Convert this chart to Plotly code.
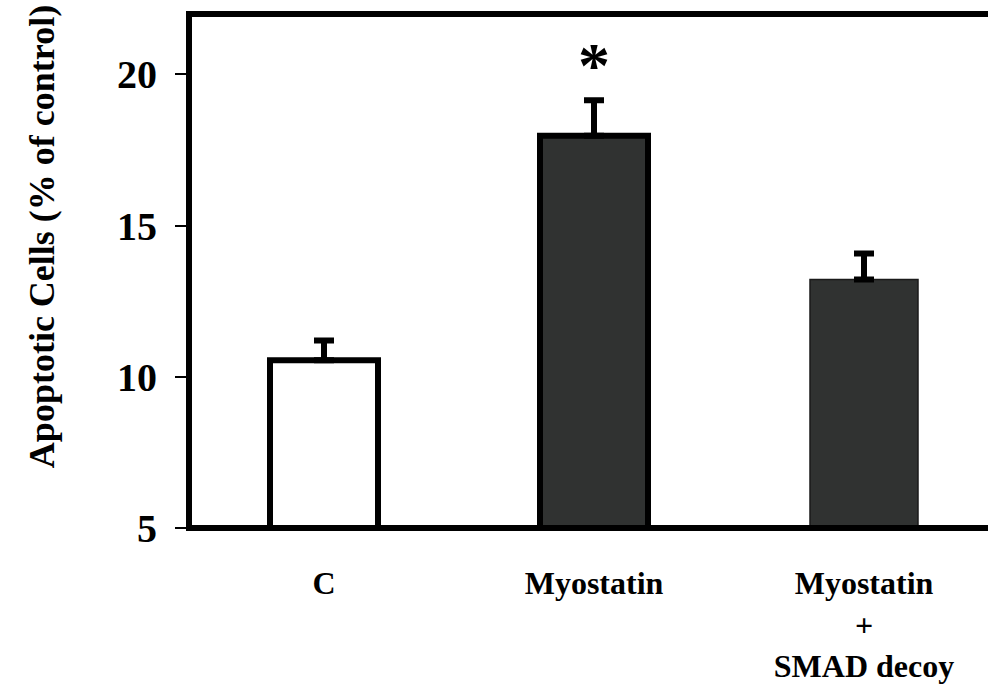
import plotly.graph_objects as go

# Apoptosis data (% of control), mean and upper error
categories = ["C", "Myostatin", "Myostatin<br>+<br>SMAD decoy"]
values = [10.55, 17.97, 13.22]
errors_up = [0.65, 1.18, 0.86]
fill_colors = ["#ffffff", "#303231", "#303231"]
outline_widths = [6, 6, 1.5]
outline_colors = ["#000000", "#000000", "#1a1a1a"]
y_ticks = [5, 10, 15, 20]
y_range = [5, 22]
significance_mark = "*"

W, H = 988, 684
L, T, B, R = 189, 14, 154, 0
plot_w = W - L - R
plot_h = H - T - B
cat_px = 270.0  # pixel width of one category slot
x_range = [-0.5, -0.5 + plot_w / cat_px]

FONT = "Liberation Serif, Times New Roman, serif"
positions = list(range(len(categories)))

fig = go.Figure()
fig.add_trace(go.Bar(
    x=positions,
    y=[v - y_range[0] for v in values],
    base=y_range[0],
    width=0.4,
    marker=dict(color=fill_colors,
                line=dict(color=outline_colors, width=outline_widths)),
    error_y=dict(type="data", symmetric=False, array=errors_up,
                 arrayminus=[0] * len(values), color="#000000",
                 thickness=6, width=10),
    hoverinfo="skip",
))

# Frame: left axis, bottom axis, and top border
dx = 3 / plot_w
dy = 3 / plot_h
frame = dict(type="line", xref="paper", yref="paper",
             line=dict(color="#000000", width=6), layer="above")
fig.add_shape(**frame, x0=0, x1=0, y0=-dy, y1=1 + dy)
fig.add_shape(**frame, x0=-dx, x1=1, y0=0, y1=0)
fig.add_shape(**frame, x0=-dx, x1=1, y0=1, y1=1)

# Significance marker above the Myostatin bar
fig.add_annotation(x=1, y=20.3, xref="x", yref="y",
                   text=f"<b>{significance_mark}</b>",
                   showarrow=False, yanchor="middle",
                   font=dict(family=FONT, size=64, color="#000000"))

# Y-axis title
fig.add_annotation(x=(42 - L) / plot_w, y=(H - B - 238) / plot_h,
                   xref="paper", yref="paper",
                   text="<b>Apoptotic Cells (% of control)</b>",
                   textangle=-90, showarrow=False,
                   xanchor="center", yanchor="middle",
                   font=dict(family=FONT, size=36, color="#000000"))

fig.update_layout(
    width=W, height=H,
    margin=dict(l=L, r=R, t=T, b=B, pad=0),
    paper_bgcolor="#ffffff", plot_bgcolor="#ffffff",
    showlegend=False,
    font=dict(family=FONT, color="#000000"),
    xaxis=dict(range=x_range, tickvals=positions,
               ticktext=[f"<b>{c}</b>" for c in categories],
               showgrid=False, zeroline=False, showline=False, ticks="",
               ticklabelstandoff=33,
               tickfont=dict(family=FONT, size=32, color="#000000")),
    yaxis=dict(range=y_range, tickvals=y_ticks,
               ticktext=[f"<b>{t}</b>" for t in y_ticks],
               showgrid=False, zeroline=False, showline=False,
               ticks="outside", ticklen=13, tickwidth=1.5,
               tickcolor="#000000", ticklabelstandoff=10,
               tickfont=dict(family=FONT, size=40, color="#000000")),
)

fig.write_html("out.html")
